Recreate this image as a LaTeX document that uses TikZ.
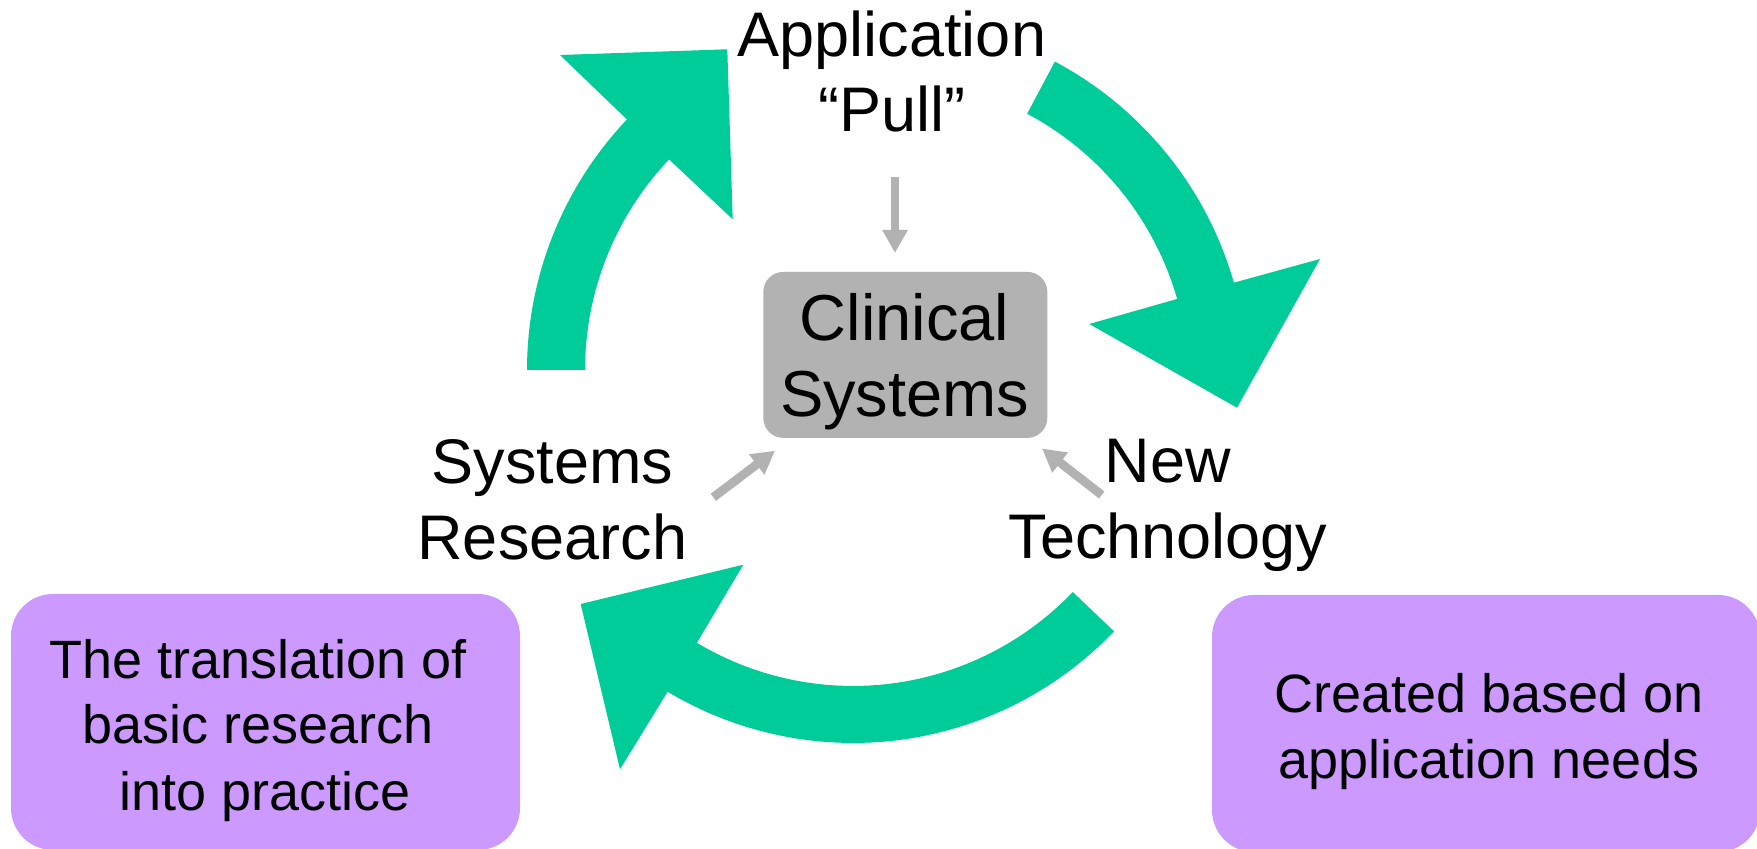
\documentclass[tikz,border=0pt]{standalone}
\usepackage{fontspec}
\setmainfont{Liberation Sans}
\usetikzlibrary{arrows.meta}
\definecolor{cyclegreen}{HTML}{00CC99}
\definecolor{boxgrey}{HTML}{B2B2B2}
\definecolor{notepurple}{HTML}{CC99FF}
\begin{document}
\begin{tikzpicture}[x=0.5pt,y=-0.5pt,
  bigarrow/.style={fill=cyclegreen},
  labeltext/.style={align=center, anchor=base, inner sep=0pt, font=\fontsize{31.5pt}{37.75pt}\selectfont},
  clintext/.style={align=center, anchor=base, inner sep=0pt, font=\fontsize{32.5pt}{38pt}\selectfont},
  notetext/.style={align=center, anchor=base, inner sep=0pt, font=\fontsize{27pt}{33pt}\selectfont},
  clinbox/.style={fill=boxgrey, rounded corners=10pt, inner sep=0pt, minimum width=142pt, minimum height=83pt},
  notebox/.style={fill=notepurple, rounded corners=21pt, inner sep=0pt},
  greyarrow/.style={draw=boxgrey, line width=4.4pt, -{Triangle[length=11.5pt,width=12pt]}}
]
\useasboundingbox (0,0) rectangle (1757,849);
\clip (0,0) rectangle (1757,849);

% big green cycle arrows
\fill[bigarrow] plot[domain=180:223.5, samples=40] ({891+306*cos(\x)},{370+306*sin(\x)})
  -- (732.7,219.3) -- (727.3,49.3) -- (560,55)
  -- plot[domain=223.5:180, samples=40] ({891+364*cos(\x)},{370+364*sin(\x)}) -- cycle;
\fill[bigarrow] plot[domain=298:344, samples=40] ({884+364*cos(\x)},{383+364*sin(\x)})
  -- (1320,259) -- (1237,407.7) -- (1089.3,324)
  -- plot[domain=344:298, samples=40] ({884+305*cos(\x)},{383+305*sin(\x)}) -- cycle;
\fill[bigarrow] plot[domain=43.7:120.9, samples=40] ({853+304*cos(\x)},{382+304*sin(\x)})
  -- (743.3,564.7) -- (580.7,604) -- (620,769.3)
  -- plot[domain=120.9:43.7, samples=40] ({853+361*cos(\x)},{382+361*sin(\x)}) -- cycle;

% central box
\node[clinbox] (clin) at (905.3,354.9) {};
\node[clintext] (clintxt) at (904.7,416.7) {Clinical\\Systems};

% labels
\node[labeltext] (app) at (892,131.7) {Application\\“Pull”};
\node[labeltext] (sysres) at (552.3,559.3) {Systems\\Research};
\node[labeltext] (newtech) at (1168,558.3) {New\\Technology};

% note boxes
\node[notebox, minimum width=254.5pt, minimum height=128pt] (leftnote) at (265.5,722) {};
\node[notetext] (lefttxt) at (257.7,810) {The translation of\\basic research\\\hspace*{7.3pt}into practice};
\node[notebox, minimum width=274pt, minimum height=128.5pt] (rightnote) at (1486,723.5) {};
\node[notetext] (righttxt) at (1489,778) {Created based on\\application needs};

% grey arrows
\coordinate (appfrom) at (895,177);
\coordinate (appto) at (895,253);
\coordinate (srfrom) at (713.3,497.3);
\coordinate (srto) at (775,450.7);
\coordinate (ntfrom) at (1101.7,495);
\coordinate (ntto) at (1042,448.5);
\draw[greyarrow] (appfrom) -- (appto);
\draw[greyarrow] (srfrom) -- (srto);
\draw[greyarrow] (ntfrom) -- (ntto);
\end{tikzpicture}
\end{document}
